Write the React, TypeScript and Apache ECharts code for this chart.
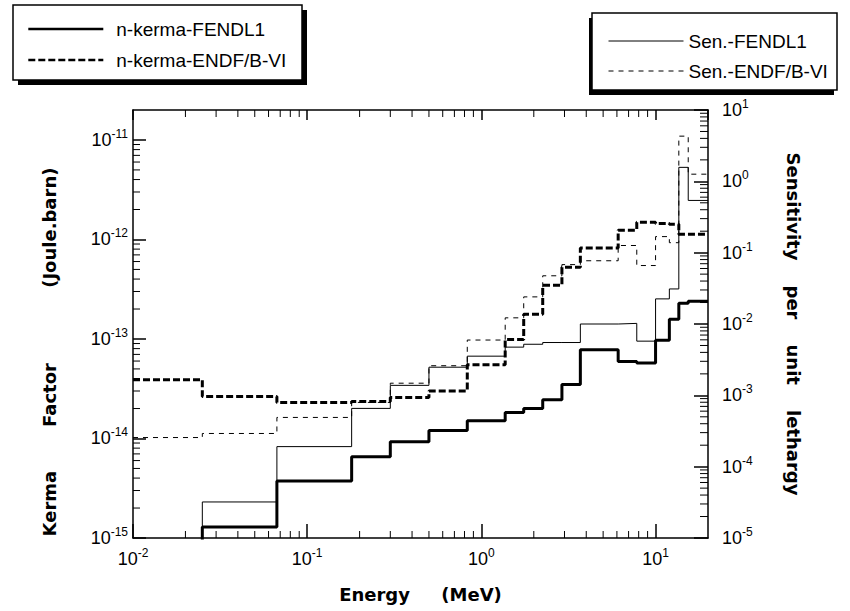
import React, { useEffect, useRef } from 'react';
import * as echarts from 'echarts';

// Energy group boundaries (MeV)
const energyBounds = [0.01, 0.025, 0.067, 0.18, 0.3, 0.5, 0.83, 1.37, 1.75, 2.25, 2.9, 3.7, 6.1, 7.8, 10, 12, 13.6, 15.4, 20];

// Kerma factors (Joule.barn), one value per group (left axis)
const kermaFendl = [1e-16, 1.29e-15, 3.75e-15, 6.55e-15, 9.3e-15, 1.2e-14, 1.51e-14, 1.82e-14, 2.0e-14, 2.45e-14, 3.48e-14, 7.8e-14, 5.95e-14, 5.75e-14, 9.7e-14, 1.58e-13, 2.28e-13, 2.4e-13];
const kermaEndf = [3.9e-14, 2.64e-14, 2.3e-14, 2.35e-14, 2.58e-14, 3.0e-14, 5.5e-14, 9.9e-14, 1.77e-13, 3.46e-13, 5.25e-13, 8.2e-13, 1.24e-12, 1.49e-12, 1.45e-12, 1.42e-12, 1.13e-12, 1.13e-12];

// Sensitivity per unit lethargy, one value per group (right axis)
const senFendl = [1e-6, 3.2e-5, 1.91e-4, 6.56e-4, 1.38e-3, 2.48e-3, 3.54e-3, 4.74e-3, 5.2e-3, 5.5e-3, 5.5e-3, 1.0e-2, 1.02e-2, 5.75e-3, 2.25e-2, 3.1e-2, 1.57, 0.54];
const senEndf = [2.56e-4, 2.92e-4, 4.9e-4, 7.96e-4, 1.48e-3, 2.6e-3, 5.96e-3, 1.22e-2, 2.4e-2, 4.74e-2, 6.8e-2, 7.7e-2, 0.126, 6.6e-2, 0.168, 0.138, 4.3, 1.26];

const seriesNames = ['n-kerma-FENDL1', 'n-kerma-ENDF/B-VI', 'Sen.-FENDL1', 'Sen.-ENDF/B-VI'];

const xRange = [0.01, 20];
const leftRange = [1e-15, 2e-11];
const rightRange = [1e-5, 10];

const xDecades = [0.01, 0.1, 1, 10];
const leftDecades = [1e-15, 1e-14, 1e-13, 1e-12, 1e-11];
const rightDecades = [1e-5, 1e-4, 1e-3, 1e-2, 1e-1, 1];
const minorMultipliers = [2, 3, 4, 5, 6, 7, 8, 9];

function minorTicks(decades: number[], max: number): number[] {
  const out: number[] = [];
  decades.forEach((d) => minorMultipliers.forEach((k) => {
    const v = k * d;
    if (v < max * 0.999) out.push(v);
  }));
  return out;
}

function steps(vals: number[]): number[][] {
  return energyBounds.map((e, i) => [e, vals[Math.min(i, vals.length - 1)]]);
}

const expLabel = (v: number) => {
  const e = Math.log10(v);
  const r = Math.round(e);
  if (Math.abs(e - r) > 1e-6) return '';
  return `{b|10}{s|${r}}`;
};

const labelRich = {
  b: { fontSize: 18, fontFamily: 'Liberation Sans', color: '#000', lineHeight: 24 },
  s: { fontSize: 12, fontFamily: 'Liberation Sans', color: '#000', lineHeight: 12, verticalAlign: 'top' as const },
};

const nameStyle = { fontFamily: 'DejaVu Sans', fontWeight: 'bold' as const, fontSize: 18, color: '#000', lineHeight: 20 };
const axisLine = { show: true, lineStyle: { color: '#000', width: 1.5 } };

export default function App() {
  const ref = useRef<HTMLDivElement>(null);
  useEffect(() => {
    if (!ref.current) return;
    const chart = echarts.init(ref.current, undefined, { renderer: 'svg' });
    const xMinor = minorTicks(xDecades, xRange[1]);
    const leftMinor = minorTicks(leftDecades, leftRange[1]);
    const rightMinor = minorTicks(rightDecades, rightRange[1]);
    const tickLine = (x1: number, y1: number, x2: number, y2: number) => ({
      type: 'line', shape: { x1, y1, x2, y2 }, style: { stroke: '#000', lineWidth: 1 },
    });

    const legendCommon = {
      orient: 'vertical' as const,
      itemWidth: 75,
      itemHeight: 20,
      selectedMode: false,
      backgroundColor: 'transparent',
      borderWidth: 0,
      itemStyle: { color: 'rgba(0,0,0,0)', borderColor: 'rgba(0,0,0,0)', borderWidth: 0 },
      z: 10,
    };

    const box = (x: number, y: number, w: number, h: number, dx: number, dy: number) => [
      { type: 'rect', z: 1, shape: { x: x + dx, y: y + dy, width: w, height: h }, style: { fill: '#000' } },
      { type: 'rect', z: 2, shape: { x, y, width: w, height: h }, style: { fill: '#fff', stroke: '#000', lineWidth: 1.5 } },
    ];

    chart.setOption({
      animation: false,
      backgroundColor: '#fff',
      grid: { left: 133, right: 142, top: 110, bottom: 73, containLabel: false },
      graphic: [...box(13, 5, 289, 75, 5, 5), ...box(592, 13, 245, 77, -3, 5)],
      legend: [
        {
          ...legendCommon,
          data: [seriesNames[0], seriesNames[1]],
          left: 13, top: 5,
          itemGap: 11,
          padding: [14, 15, 10, 14],
          lineStyle: { width: 2.6 },
          textStyle: { fontFamily: 'Liberation Sans', fontSize: 19, lineHeight: 20, color: '#000', padding: [0, 0, 0, 8] },
        },
        {
          ...legendCommon,
          data: [seriesNames[2], seriesNames[3]],
          left: 592, top: 13,
          itemGap: 10,
          padding: [18, 10, 9, 16],
          lineStyle: { width: 1 },
          textStyle: { fontFamily: 'Liberation Sans', fontSize: 19, lineHeight: 20, color: '#000' },
        },
      ],
      xAxis: [
        {
          type: 'log', min: xRange[0], max: xRange[1], position: 'bottom',
          name: 'Energy     (MeV)', nameLocation: 'middle', nameGap: 46, nameTextStyle: nameStyle,
          axisLine, splitLine: { show: false },
          axisTick: { inside: true, length: 14, lineStyle: { color: '#000', width: 1.5 } },
          axisLabel: { formatter: expLabel, rich: labelRich, margin: 9, showMaxLabel: false },
        },
        {
          type: 'log', min: xRange[0], max: xRange[1], position: 'top',
          axisLine, splitLine: { show: false },
          axisTick: { inside: true, length: 10, lineStyle: { color: '#000', width: 1.5 } },
          axisLabel: { show: false },
        },
      ],
      yAxis: [
        {
          type: 'log', min: leftRange[0], max: leftRange[1], position: 'left',
          name: 'Kerma       Factor            (Joule.barn)', nameLocation: 'middle', nameGap: 74,
          nameTextStyle: { ...nameStyle, padding: [0, 56, 0, 0] },
          axisLine, splitLine: { show: false },
          axisTick: { inside: true, length: 13, lineStyle: { color: '#000', width: 1.5 } },
          axisLabel: { formatter: expLabel, rich: labelRich, margin: 5, showMaxLabel: false, align: 'right' },
        },
        {
          type: 'log', min: rightRange[0], max: rightRange[1], position: 'right',
          name: 'Sensitivity    per    unit    lethargy', nameLocation: 'middle', nameGap: 75, nameRotate: -90,
          nameTextStyle: nameStyle,
          axisLine, splitLine: { show: false },
          axisTick: { inside: true, length: 14, lineStyle: { color: '#000', width: 1.5 } },
          axisLabel: { formatter: expLabel, rich: labelRich, margin: 14, align: 'left' },
        },
      ],
      series: [
        {
          name: seriesNames[0], type: 'line', step: 'end', symbol: 'none', xAxisIndex: 0, yAxisIndex: 0,
          lineStyle: { color: '#000', width: 3 }, itemStyle: { color: '#000' },
          data: steps(kermaFendl), z: 5,
        },
        {
          name: seriesNames[1], type: 'line', step: 'end', symbol: 'none', xAxisIndex: 0, yAxisIndex: 0,
          lineStyle: { color: '#000', width: 3, type: [7, 3] }, itemStyle: { color: '#000' },
          data: steps(kermaEndf), z: 5,
        },
        {
          name: seriesNames[2], type: 'line', step: 'end', symbol: 'none', xAxisIndex: 0, yAxisIndex: 1,
          lineStyle: { color: '#000', width: 1 }, itemStyle: { color: '#000' },
          data: steps(senFendl), z: 4,
        },
        {
          name: seriesNames[3], type: 'line', step: 'end', symbol: 'none', xAxisIndex: 0, yAxisIndex: 1,
          lineStyle: { color: '#000', width: 1, type: [5, 5] }, itemStyle: { color: '#000' },
          data: steps(senEndf), z: 4,
        },
        {
          type: 'custom', xAxisIndex: 0, yAxisIndex: 0, silent: true, clip: false, z: 3,
          data: xMinor.map((v) => [v, leftRange[0]]),
          renderItem: (params: any, api: any) => {
            const x = api.coord([api.value(0), leftRange[0]])[0];
            const cs = params.coordSys;
            const bottom = cs.y + cs.height;
            return { type: 'group', children: [tickLine(x, bottom, x, bottom - 7), tickLine(x, cs.y, x, cs.y + 7)] };
          },
        },
        {
          type: 'custom', xAxisIndex: 0, yAxisIndex: 0, silent: true, clip: false, z: 3,
          data: leftMinor.map((v) => [xRange[0], v]),
          renderItem: (params: any, api: any) => {
            const y = api.coord([xRange[0], api.value(1)])[1];
            const cs = params.coordSys;
            return tickLine(cs.x, y, cs.x + 7, y);
          },
        },
        {
          type: 'custom', xAxisIndex: 0, yAxisIndex: 1, silent: true, clip: false, z: 3,
          data: rightMinor.map((v) => [xRange[0], v]),
          renderItem: (params: any, api: any) => {
            const y = api.coord([xRange[0], api.value(1)])[1];
            const cs = params.coordSys;
            const right = cs.x + cs.width;
            return tickLine(right, y, right - 8, y);
          },
        },
      ],
    });
    return () => chart.dispose();
  }, []);
  return <div ref={ref} style={{ position: 'fixed', left: 0, top: 0, width: 850, height: 611 }} />;
}
